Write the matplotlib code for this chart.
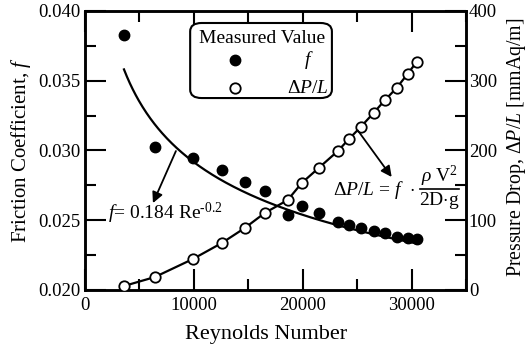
import matplotlib
matplotlib.use('Agg')
import matplotlib.pyplot as plt
import numpy as np
from matplotlib.patches import FancyBboxPatch
from matplotlib.ticker import MultipleLocator, FormatStrFormatter

plt.rcParams['font.family'] = ['Liberation Serif', 'DejaVu Serif']
plt.rcParams['mathtext.fontset'] = 'custom'
plt.rcParams['mathtext.rm'] = 'Liberation Serif'
plt.rcParams['mathtext.it'] = 'Liberation Serif:italic'
plt.rcParams['mathtext.bf'] = 'Liberation Serif:bold'

# ---- data ----
reynolds = [3580, 6420, 9910, 12570, 14680, 16510, 18620, 19910, 21470,
            23210, 24220, 25320, 26510, 27520, 28620, 29630, 30460]
friction = [0.0383, 0.03025, 0.02946, 0.0286, 0.02774, 0.0271, 0.02538,
            0.02602, 0.02552, 0.02487, 0.02466, 0.02444, 0.02423, 0.02409,
            0.0238, 0.02373, 0.02366]
pressure_drop = [5.7, 18.6, 44.4, 67.4, 88.9, 110.4, 129, 153.4, 175, 199,
                 216, 233.7, 253.8, 271.7, 289.6, 309.7, 326.9]
fit_coef = 0.184
fit_exp = -0.2

x_ticks = [0, 10000, 20000, 30000]
f_ticks = [0.020, 0.025, 0.030, 0.035, 0.040]
dp_ticks = [0, 100, 200, 300, 400]

fig = plt.figure(figsize=(5.27, 3.47), dpi=100)
ax = fig.add_axes([0.1613, 0.1643, 0.723, 0.804])

# friction coefficient
ax.plot(reynolds, friction, 'o', color='black', ms=7.5, zorder=3, clip_on=False)
re_fit = np.linspace(min(reynolds), max(reynolds), 300)
ax.plot(re_fit, fit_coef * re_fit ** fit_exp, color='black', lw=1.6)

ax.set_xlim(0, 35000)
ax.set_ylim(0.020, 0.040)
ax.set_xticks(x_ticks)
ax.set_yticks(f_ticks)
ax.xaxis.set_minor_locator(MultipleLocator(5000))
ax.yaxis.set_minor_locator(MultipleLocator(0.0025))
ax.yaxis.set_major_formatter(FormatStrFormatter('%.3f'))
ax.tick_params(axis='both', which='both', direction='in', top=True, width=1.5,
               labelsize=13.5, colors='black')
ax.tick_params(axis='both', which='major', length=15)
ax.tick_params(axis='both', which='minor', length=8)
ax.tick_params(axis='y', pad=3)
ax.tick_params(axis='x', pad=5)
for s in ax.spines.values():
    s.set_linewidth(1.8)

ax.set_xlabel('Reynolds Number', fontsize=16, labelpad=1)
ax.xaxis.set_label_coords(0.475, -0.125)
ax.set_ylabel('Friction Coefficient, $f$', fontsize=15, labelpad=4)

# pressure drop
ax2 = ax.twinx()
ax2.plot(reynolds, pressure_drop, '-o', color='black', mfc='white', ms=7.5,
         mew=1.3, lw=1.6, zorder=3)
ax2.set_ylim(0, 400)
ax2.set_yticks(dp_ticks)
ax2.yaxis.set_minor_locator(MultipleLocator(50))
ax2.tick_params(axis='y', which='both', direction='in', width=1.5, labelsize=13.5, pad=2)
ax2.tick_params(axis='y', which='major', length=15)
ax2.tick_params(axis='y', which='minor', length=8)
ax2.set_ylabel(r'Pressure Drop, $\Delta P/L$ [mmAq/m]', fontsize=14.3, labelpad=9)
ax2.yaxis.set_label_coords(1.103, 0.51)
for s in ax2.spines.values():
    s.set_linewidth(1.8)

# annotations
ax.annotate('', xy=(6240, 0.02623), xytext=(8350, 0.02996),
            arrowprops=dict(arrowstyle='-|>', color='black', lw=1.3,
                            mutation_scale=16, shrinkA=0, shrinkB=0))
ax.text(2110, 0.02552, r'$f$= 0.184 Re$^{\text{-}0.2}$', fontsize=14,
        ha='left', va='center')

ax2.annotate('', xy=(28170, 162), xytext=(25050, 229),
             arrowprops=dict(arrowstyle='-|>', color='black', lw=1.3,
                             mutation_scale=16, shrinkA=0, shrinkB=0))
ax2.text(22750, 143.4, r'$\Delta P/L$ = $f$  $\cdot$', fontsize=14,
         ha='left', va='center')
ax2.text(32570, 163.4, r'$\rho$ V$^2$', fontsize=14, ha='center', va='center')
ax2.text(32570, 127.6, r'2D$\cdot$g', fontsize=14, ha='center', va='center')
ax2.plot([30730, 34400], [145, 145], color='black', lw=1.2)

# legend (drawn manually to match layout)
tr = ax2.transAxes
box = FancyBboxPatch((0.276, 0.688), 0.372, 0.269, transform=tr,
                     boxstyle='round,pad=0,rounding_size=0.03',
                     facecolor='white', edgecolor='black', lw=1.5, zorder=5)
ax2.add_patch(box)
ax2.text(0.464, 0.903, 'Measured Value', transform=tr, fontsize=14,
         ha='center', va='center', zorder=6)
ax2.plot([0.394], [0.824], 'o', color='black', ms=7.5, transform=tr, zorder=6, clip_on=False)
ax2.plot([0.394], [0.724], 'o', color='black', mfc='white', ms=7.5, mew=1.3,
         transform=tr, zorder=6, clip_on=False)
ax2.text(0.599, 0.824, '$f$', transform=tr, fontsize=14, ha='right',
         va='center', zorder=6)
ax2.text(0.640, 0.724, r'$\Delta P/L$', transform=tr, fontsize=14,
         ha='right', va='center', zorder=6)

fig.savefig('out.png', dpi=100)
